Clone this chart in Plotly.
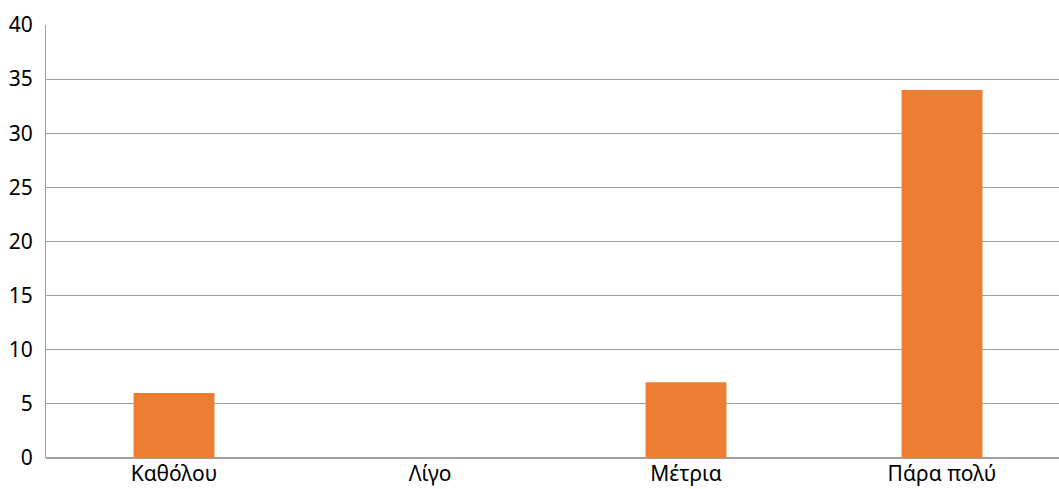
import plotly.graph_objects as go

categories = ["Καθόλου", "Λίγο", "Μέτρια", "Πάρα πολύ"]
values = [6, 0, 7, 34]
y_ticks = [0, 5, 10, 15, 20, 25, 30, 35, 40]

fig = go.Figure(go.Bar(x=categories, y=values, marker=dict(color="#ED7D31", line=dict(width=0)), width=0.316))

fig.update_layout(
    width=1059, height=489,
    margin=dict(l=46, r=0, t=25, b=31),
    plot_bgcolor="white", paper_bgcolor="white",
    font=dict(family="Noto Sans, Open Sans, sans-serif", size=21, color="#000000"),
    showlegend=False,
    xaxis=dict(range=[-0.5, 3.457], showgrid=False, showline=False, ticks="", automargin=False,
               tickfont=dict(size=21), ticklabelstandoff=1),
    yaxis=dict(range=[0, 40], tickvals=y_ticks, showgrid=True, gridcolor="#A0A0A0", gridwidth=1,
               showline=True, linecolor="#A0A0A0", linewidth=1, zeroline=True, zerolinecolor="#A0A0A0",
               ticks="", ticklabelstandoff=8, automargin=False, tickfont=dict(size=21)),
)

fig.write_html("out.html")
